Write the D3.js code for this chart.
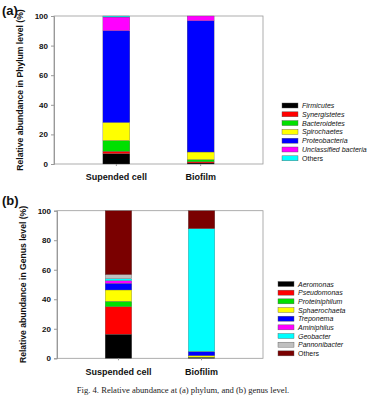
<!DOCTYPE html>
<html>
<head>
<meta charset="utf-8">
<script src="https://cdn.jsdelivr.net/npm/d3@7"></script>
<style>
body { margin: 0; background: #fff; }
text { font-family: "Liberation Sans", Arial, sans-serif; }
</style>
</head>
<body>
<div id="chart"></div>
<script>
var svgWidth = 370;
var svgHeight = 397;

// Data
var samplesA = ["Supended cell", "Biofilm"];
var phyla = ["Firmicutes", "Synergistetes", "Bacteroidetes", "Spirochaetes", "Proteobacteria", "Unclassified bacteria", "Others"];
var phylaColors = ["#000000", "#ff0000", "#00e000", "#ffff00", "#0000ff", "#ff00ff", "#00ffff"];
var phylaSuspended = [7.0, 1.6, 7.3, 12.2, 62.0, 9.2, 0.7];
var phylaBiofilm = [0.7, 0.8, 1.5, 5.1, 88.7, 3.2, 0];

var samplesB = ["Suspended cell", "Biofilim"];
var genera = ["Aeromonas", "Pseudomonas", "Proteiniphilum", "Sphaerochaeta", "Treponema", "Aminiphilus", "Geobacter", "Pannonibacter", "Others"];
var generaColors = ["#000000", "#ff0000", "#00e000", "#ffff00", "#0000ff", "#ff00ff", "#00ffff", "#c0c0c0", "#7a0000"];
var generaSuspended = [16.3, 18.7, 3.6, 7.7, 4.5, 1.8, 1.3, 2.8, 43.3];
var generaBiofilm = [0.3, 0.3, 0.2, 1.0, 2.7, 0.1, 83.2, 0.1, 12.1];

var yTicks = [0, 20, 40, 60, 80, 100];

var svg = d3.select("#chart")
    .append("svg")
    .attr("width", svgWidth)
    .attr("height", svgHeight);

svg.append("rect").attr("width", svgWidth).attr("height", svgHeight).attr("fill", "#fff");

function drawPanel(opts) {
    var g = svg.append("g");
    var x = d3.scaleBand()
        .domain(opts.samples)
        .range([opts.left, opts.right])
        .paddingInner(0.68)
        .paddingOuter(0.58);
    var y = d3.scaleLinear()
        .domain([0, 100])
        .range([opts.bottom, opts.top]);

    // frame
    g.append("rect")
        .attr("x", opts.left).attr("y", opts.top)
        .attr("width", opts.right - opts.left)
        .attr("height", opts.bottom - opts.top)
        .attr("fill", "none")
        .attr("stroke", "#999")
        .attr("stroke-width", 0.8);

    // stacked bars
    var rows = opts.samples.map(function (s, i) {
        var row = { sample: s };
        opts.keys.forEach(function (k, j) { row[k] = opts.values[i][j]; });
        return row;
    });
    var series = d3.stack().keys(opts.keys)(rows);
    g.selectAll("g.layer")
        .data(series)
        .enter()
        .append("g")
        .attr("fill", (d, i) => opts.colors[i])
        .selectAll("rect")
        .data(d => d)
        .enter()
        .append("rect")
        .attr("x", d => x(d.data.sample))
        .attr("y", d => y(d[1]))
        .attr("width", x.bandwidth())
        .attr("height", d => y(d[0]) - y(d[1]))
        .attr("stroke", "#555")
        .attr("stroke-width", 0.3);

    // axes
    var leftAxis = d3.axisLeft(y).tickValues(yTicks).tickSize(3).tickPadding(3);
    var ay = g.append("g")
        .attr("transform", `translate(${opts.left},0)`)
        .call(leftAxis);
    ay.select(".domain").attr("stroke", "#999");
    ay.selectAll(".tick line").attr("stroke", "#999");
    ay.selectAll("text")
        .attr("font-size", 8)
        .attr("font-weight", "bold")
        .attr("fill", "#111");

    var bottomAxis = d3.axisBottom(x).tickSize(2).tickPadding(8);
    var ax = g.append("g")
        .attr("transform", `translate(0,${opts.bottom})`)
        .call(bottomAxis);
    ax.select(".domain").remove();
    ax.selectAll(".tick line").attr("stroke", "#999");
    ax.selectAll("text")
        .attr("font-size", 9)
        .attr("font-weight", "bold")
        .attr("fill", "#111");

    // y label
    g.append("text")
        .attr("transform", `translate(${opts.labelX},${(opts.top + opts.bottom) / 2}) rotate(-90)`)
        .attr("text-anchor", "middle")
        .attr("font-size", 8.6)
        .attr("font-weight", "bold")
        .attr("fill", "#111")
        .text(opts.yLabel);

    // panel letter
    g.append("text")
        .attr("x", 2).attr("y", opts.letterY)
        .attr("font-size", 13)
        .attr("font-weight", "bold")
        .attr("fill", "#111")
        .text(opts.letter);

    // legend
    var leg = g.selectAll("g.leg")
        .data(opts.keys)
        .enter()
        .append("g")
        .attr("transform", (d, i) => `translate(${opts.legX},${opts.legY + i * opts.legStep})`);
    leg.append("rect")
        .attr("x", 0).attr("y", -2.5)
        .attr("width", 16).attr("height", 5)
        .attr("fill", (d, i) => opts.colors[i])
        .attr("stroke", "#555")
        .attr("stroke-width", 0.4);
    leg.append("text")
        .attr("x", 20).attr("y", 2.5)
        .attr("font-size", 7)
        .attr("font-style", (d) => d === "Others" ? "normal" : "italic")
        .attr("fill", "#111")
        .text(d => d);
}

drawPanel({
    samples: samplesA, keys: phyla, colors: phylaColors,
    values: [phylaSuspended, phylaBiofilm],
    left: 54, right: 263, top: 16, bottom: 164,
    labelX: 23, letter: "(a)", letterY: 15,
    yLabel: "Relative abundance in Phylum level (%)",
    legX: 282, legY: 105.5, legStep: 8.8
});

drawPanel({
    samples: samplesB, keys: genera, colors: generaColors,
    values: [generaSuspended, generaBiofilm],
    left: 57, right: 263, top: 210.7, bottom: 358.3,
    labelX: 26, letter: "(b)", letterY: 205,
    yLabel: "Relative abundance in Genus level (%)",
    legX: 278, legY: 284, legStep: 8.67
});

// caption
svg.append("text")
    .attr("x", 183).attr("y", 393)
    .attr("text-anchor", "middle")
    .attr("font-size", 8.6)
    .attr("fill", "#222")
    .style("font-family", "'Liberation Serif', serif")
    .text("Fig. 4. Relative abundance at (a) phylum, and (b) genus level.");
</script>
</body>
</html>
